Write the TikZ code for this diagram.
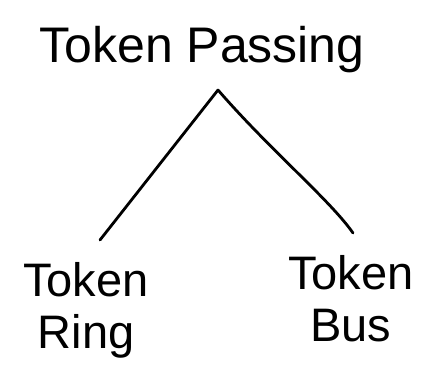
\documentclass[tikz,border=0pt]{standalone}
\usepackage{fontspec}
\setmainfont{Liberation Sans}
\begin{document}
\begin{tikzpicture}[x=1pt,y=-1pt,
  lbl/.style={inner sep=0pt,align=center,font=\fontsize{47}{52}\selectfont},
  toplbl/.style={inner sep=0pt,font=\fontsize{50}{52}\selectfont},
  branch/.style={line width=2.8pt,line cap=round,line join=round}]
\useasboundingbox (0,0) rectangle (437,372);
\node[toplbl,anchor=base] (root) at (202,62) {Token Passing};
\node[lbl,anchor=north] (ring) at (86,262) {Token\\Ring};
\node[lbl,anchor=north] (bus) at (351,255) {Token\\Bus};
\coordinate (apex) at (218,90);
\coordinate (ringend) at (100,240);
\coordinate (busend) at (353,233);
\draw[branch] (apex) -- (ringend);
\draw[branch] (apex) .. controls (270,150) and (330,200) .. (busend);
\end{tikzpicture}
\end{document}
